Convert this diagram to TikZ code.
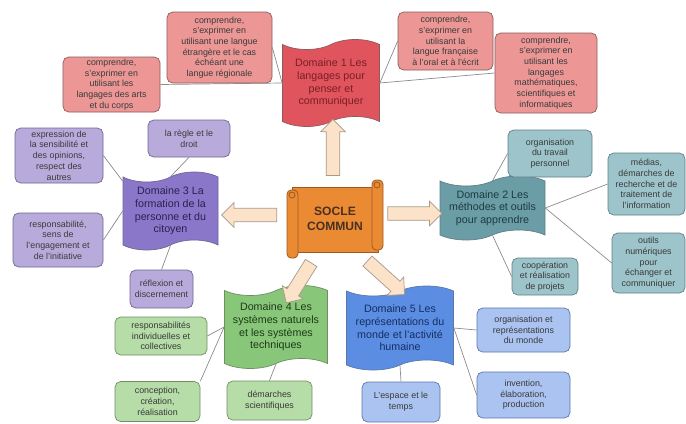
\documentclass[tikz,border=0pt]{standalone}
\usepackage{fontspec}
\setmainfont{Liberation Sans}
\usetikzlibrary{shapes.symbols, shapes.arrows, calc}

\definecolor{boxtext}{HTML}{3A3A3A}
\definecolor{linkgrey}{HTML}{8C8C8C}
\definecolor{pinkbox}{HTML}{EC9796}
\definecolor{pinkline}{HTML}{8E5B5B}
\definecolor{pinkdom}{HTML}{E0545E}
\definecolor{pinktext}{HTML}{7A1F24}
\definecolor{purplebox}{HTML}{B8ABDC}
\definecolor{purpleline}{HTML}{6E6592}
\definecolor{purpledom}{HTML}{8A77C9}
\definecolor{purpletext}{HTML}{2A2150}
\definecolor{tealbox}{HTML}{9CC4CA}
\definecolor{tealline}{HTML}{5E8086}
\definecolor{tealdom}{HTML}{6A9DA6}
\definecolor{tealtext}{HTML}{1E3A40}
\definecolor{greenbox}{HTML}{B6DCA8}
\definecolor{greenline}{HTML}{6F8F63}
\definecolor{greendom}{HTML}{88C679}
\definecolor{greentext}{HTML}{1E3A18}
\definecolor{bluebox}{HTML}{AAC3F1}
\definecolor{blueline}{HTML}{5C78A8}
\definecolor{bluedom}{HTML}{5B8EE2}
\definecolor{bluetext}{HTML}{152E60}
\definecolor{soclefill}{HTML}{EA8B34}
\definecolor{scrollline}{HTML}{9C5A1E}
\definecolor{socletext}{HTML}{4A3020}
\definecolor{fatfill}{HTML}{FBE2C9}
\definecolor{fatline}{HTML}{A89A8A}

% sizes given in pixel units of the picture grid
\tikzset{wh/.style 2 args={minimum width=#1*0.025cm, minimum height=#2*0.025cm}}

\begin{document}
\begin{tikzpicture}[x=0.025cm, y=-0.025cm,
  box/.style={draw, rounded corners=4pt, align=center, inner sep=1pt, text=boxtext,
    font=\fontsize{6.3}{7.6}\selectfont, line width=0.5pt},
  pbox/.style={box, fill=pinkbox, draw=pinkline},
  ubox/.style={box, fill=purplebox, draw=purpleline},
  tbox/.style={box, fill=tealbox, draw=tealline},
  gbox/.style={box, fill=greenbox, draw=greenline},
  bbox/.style={box, fill=bluebox, draw=blueline},
  dom/.style={tape, draw, align=center, inner sep=1pt, line width=0.5pt,
    tape bend top=in and out, tape bend bottom=in and out, tape bend height=2.5mm,
    font=\fontsize{7.6}{9}\selectfont},
  link/.style={draw=linkgrey, line width=0.5pt},
  fat/.style={single arrow, draw=fatline, fill=fatfill, line width=0.5pt,
    inner xsep=0pt, inner ysep=0.16cm, single arrow head extend=0.14cm},
  scroll/.style={draw=scrollline, fill=soclefill, line width=0.6pt}]
\useasboundingbox (0,0) rectangle (686,423);

% Socle commun (scroll)
\filldraw[scroll] (292,187) rectangle (378,252);
\filldraw[scroll, rounded corners=3pt] (372,180) rectangle (383,250);
\draw[scroll] (377,185) circle (3);
\filldraw[scroll, rounded corners=3pt] (287,190) rectangle (298,258);
\draw[scroll] (292,195) circle (3);
\node[wh={96}{78}, align=center, text=socletext, font=\fontsize{8.6}{11}\selectfont\bfseries]
  (socle) at (335,219) {SOCLE\\ COMMUN};

% Domaine 1
\node[dom, fill=pinkdom, draw=pinkline, text=pinktext, wh={97}{87}] (d1) at (331,83)
  {Domaine 1 Les\\ langages pour\\ penser et\\ communiquer};
\node[pbox, wh={97}{55}] (p1) at (111.5,84.5) {comprendre,\\ s'exprimer en\\ utilisant les\\ langages des arts\\ et du corps};
\node[pbox, wh={105}{71}] (p2) at (219.5,47.5) {comprendre,\\ s'exprimer en\\ utilisant une langue\\ étrangère et le cas\\ échéant une\\ langue régionale};
\node[pbox, wh={95}{58}] (p3) at (445.5,41) {comprendre,\\ s'exprimer en\\ utilisant la\\ langue française\\ à l'oral et à l'écrit};
\node[pbox, wh={102}{80}] (p4) at (546,73) {comprendre,\\ s'exprimer en\\ utilisant les\\ langages\\ mathématiques,\\ scientifiques et\\ informatiques};
\draw[link] (p1.east) -- (d1.west);
\draw[link] (p2.east) -- (d1.west);
\draw[link] (p3.west) -- (d1.east);
\draw[link] (p4.west) -- (d1.east);

% Domaine 3
\node[dom, fill=purpledom, draw=purpleline, text=purpletext, wh={95}{78}] (d3) at (170.5,211)
  {Domaine 3 La\\ formation de la\\ personne et du\\ citoyen};
\node[ubox, wh={88}{55}] (u1) at (59,155.5) {expression de\\ la sensibilité et\\ des opinions,\\ respect des\\ autres};
\node[ubox, wh={82}{37}] (u2) at (189,138.5) {la règle et le\\ droit};
\node[ubox, wh={90}{54}] (u3) at (58,240) {responsabilité,\\ sens de\\ l'engagement et\\ de l'initiative};
\node[ubox, wh={63}{38}] (u4) at (161.5,289) {réflexion et\\ discernement};
\draw[link] (u1.east) -- (d3.148);
\draw[link] (u2.south) -- (d3.north);
\draw[link] (u3.east) -- (d3.west);
\draw[link] (u4.north) -- (d3.south);

% Domaine 2
\node[dom, fill=tealdom, draw=tealline, text=tealtext, wh={105}{64}] (d2) at (492.5,208)
  {Domaine 2 Les\\ méthodes et outils\\ pour apprendre};
\node[tbox, wh={84}{47}] (t1) at (550,153.5) {organisation\\ du travail\\ personnel};
\node[tbox, wh={77}{62}] (t2) at (646.5,184) {médias,\\ démarches de\\ recherche et de\\ traitement de\\ l'information};
\node[tbox, wh={66}{37}] (t3) at (545,276.5) {coopération\\ et réalisation\\ de projets};
\node[tbox, wh={73}{60}] (t4) at (648.5,263) {outils\\ numériques\\ pour\\ échanger et\\ communiquer};
\draw[link] (t1.west) -- (d2.north);
\draw[link] (t2.west) -- (d2.east);
\draw[link] (t3.west) -- (d2.south);
\draw[link] (t4.west) -- (d2.east);

% Domaine 4
\node[dom, fill=greendom, draw=greenline, text=greentext, wh={103}{83}] (d4) at (276,327)
  {Domaine 4 Les\\ systèmes naturels\\ et les systèmes\\ techniques};
\node[gbox, wh={92}{38}] (g1) at (161,336) {responsabilités\\ individuelles et\\ collectives};
\node[gbox, wh={85}{40}] (g2) at (157.5,401.5) {conception,\\ création,\\ réalisation};
\node[gbox, wh={85}{39}] (g3) at (269.5,400.5) {démarches\\ scientifiques};
\draw[link] (g1.east) -- (d4.west);
\draw[link] (g2.north east) -- (d4.west);
\draw[link] (g3.north) -- (d4.south);

% Domaine 5
\node[dom, fill=bluedom, draw=blueline, text=bluetext, wh={107}{84}] (d5) at (400,328)
  {Domaine 5 Les\\ représentations du\\ monde et l'activité\\ humaine};
\node[bbox, wh={93}{44}] (b1) at (523.5,330) {organisation et\\ représentations\\ du monde};
\node[bbox, wh={93}{46}] (b2) at (523.5,395) {invention,\\ élaboration,\\ production};
\node[bbox, wh={78}{40}] (b3) at (401,402) {L'espace et le\\ temps};
\draw[link] (b1.west) -- (d5.east);
\draw[link] (b2.west) -- (d5.east);
\draw[link] (b3.north) -- (d5.south);

% big arrows out of the socle
\node[fat, minimum height=56*0.025cm, rotate=90] (a1) at ($(socle.north)!.5!(d1.south)$) {};
\node[fat, minimum height=55*0.025cm, rotate=180] (a3) at ($(socle.west)!.5!(d3.east)$) {};
\node[fat, minimum height=54*0.025cm] (a2) at ($(socle.east)!.5!(d2.west)$) {};
\node[fat, minimum height=47*0.025cm, rotate=238] (a4) at (300.5,280) {};
\node[fat, minimum height=50*0.025cm, rotate=-42] (a5) at (383.5,275.5) {};
\end{tikzpicture}
\end{document}
